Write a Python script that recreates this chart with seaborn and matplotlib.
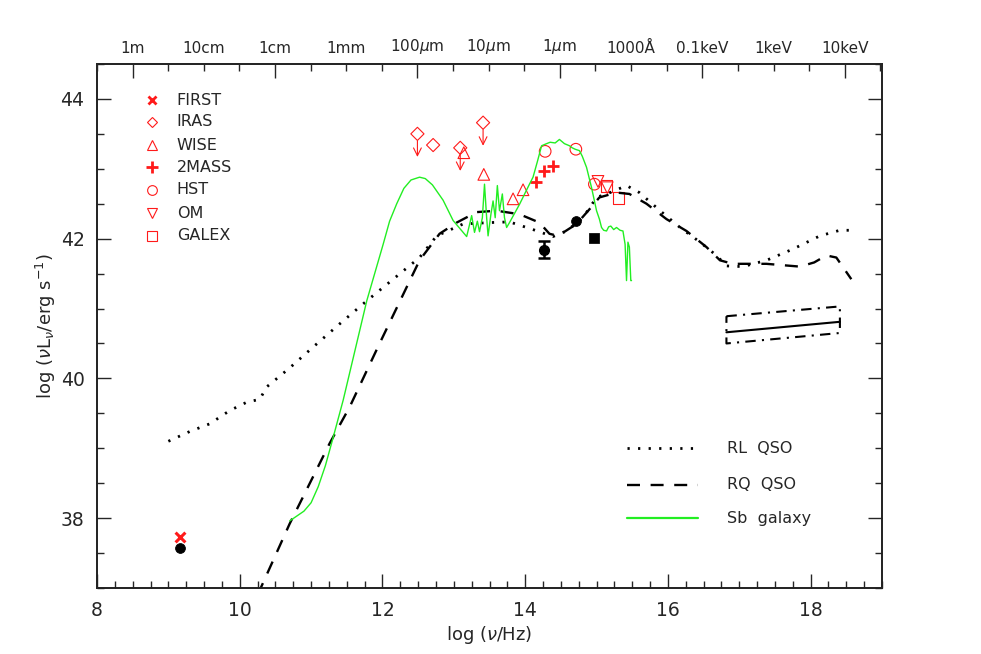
import numpy as np
import matplotlib
matplotlib.use("Agg")
import matplotlib.pyplot as plt
import seaborn as sns

# ---------------- data ----------------
rl_x = [9.0, 9.30, 9.58, 9.86, 10.10, 10.28, 10.38, 10.70, 11.03, 11.40, 11.78, 12.15, 12.52, 12.76,
        13.13, 13.50, 13.78, 14.11, 14.39, 14.58, 14.81, 15.00, 15.19, 15.42, 15.60, 15.89, 16.17,
        16.45, 16.68, 16.82, 17.05, 17.38, 17.75, 18.13, 18.41, 18.55]
rl_y = [39.10, 39.24, 39.35, 39.54, 39.66, 39.70, 39.88, 40.15, 40.45, 40.78, 41.11, 41.42, 41.73, 42.04,
        42.21, 42.23, 42.24, 42.13, 42.03, 42.11, 42.30, 42.59, 42.66, 42.76, 42.66, 42.40, 42.16,
        41.95, 41.76, 41.61, 41.60, 41.69, 41.85, 42.04, 42.12, 42.12]

rq_x = [10.25, 10.70, 11.26, 11.54, 11.96, 12.52, 12.80, 13.04, 13.32, 13.60, 13.92, 14.20, 14.34,
        14.46, 14.72, 14.90, 15.04, 15.28, 15.46, 15.70, 15.98, 16.26, 16.54, 16.73, 16.91, 17.38,
        17.85, 18.05, 18.22, 18.36, 18.57]
rq_y = [36.90, 37.92, 39.07, 39.59, 40.50, 41.69, 42.07, 42.23, 42.38, 42.40, 42.35, 42.23, 42.07,
        42.04, 42.21, 42.42, 42.59, 42.66, 42.64, 42.50, 42.28, 42.11, 41.88, 41.69, 41.64, 41.64,
        41.60, 41.66, 41.76, 41.73, 41.42]

sb_x = [10.70, 10.80, 10.90, 11.00, 11.10, 11.20, 11.30, 11.45, 11.78, 12.01, 12.10, 12.20, 12.30,
        12.40, 12.52, 12.60, 12.70, 12.85, 12.99,
        13.18, 13.22, 13.25, 13.29, 13.33, 13.36, 13.40, 13.43, 13.46, 13.48, 13.52, 13.55, 13.58,
        13.61, 13.64, 13.68, 13.71, 13.74, 13.78, 13.92, 14.06, 14.11, 14.17, 14.23, 14.30, 14.35,
        14.42, 14.48, 14.55, 14.62, 14.66, 14.70, 14.76, 14.80, 14.86, 14.93, 15.00, 15.04, 15.07,
        15.10, 15.14, 15.17, 15.20, 15.24, 15.28, 15.33, 15.37, 15.40, 15.42, 15.44, 15.46, 15.48, 15.49]
sb_y = [37.96, 38.03, 38.10, 38.22, 38.45, 38.75, 39.12, 39.69, 41.11, 41.92, 42.25, 42.50, 42.72,
        42.84, 42.88, 42.86, 42.77, 42.55, 42.26,
        42.03, 42.20, 42.33, 42.09, 42.25, 42.10, 42.30, 42.78, 42.30, 42.04, 42.35, 42.54, 42.30,
        42.76, 42.40, 42.64, 42.30, 42.16, 42.23, 42.49, 42.78, 42.88, 43.10, 43.33, 43.36, 43.38,
        43.37, 43.42, 43.36, 43.33, 43.30, 43.28, 43.26, 43.18, 43.02, 42.73, 42.40, 42.28, 42.16,
        42.12, 42.11, 42.17, 42.18, 42.13, 42.16, 42.12, 42.11, 41.92, 41.40, 41.95, 41.88, 41.40, 41.40]

first_x = [9.16]
first_y = [37.73]
iras_x = [12.49, 12.71, 13.09, 13.41]
iras_y = [43.50, 43.34, 43.30, 43.66]
iras_ul = [True, False, True, True]
wise_x = [13.14, 13.42, 13.83, 13.97]
wise_y = [43.23, 42.92, 42.57, 42.70]
tmass_x = [14.15, 14.26, 14.39]
tmass_y = [42.81, 42.97, 43.04]
hst_x = [14.28, 14.71, 14.97]
hst_y = [43.25, 43.28, 42.78]
om_x = [15.02, 15.15]
om_y = [42.82, 42.73]
galex_x = [15.14, 15.31]
galex_y = [42.75, 42.58]

blk_circ_x = [9.16, 14.71]
blk_circ_y = [37.57, 42.26]
blk_err_x = [14.27]
blk_err_y = [41.84]
blk_err = [0.12]
blk_sq_x = [14.97]
blk_sq_y = [42.01]

xray_x = [16.82, 18.41]
xray_y = [40.66, 40.81]
xray_hi = [40.89, 41.03]
xray_lo = [40.50, 40.65]

top_labels = ['1m', '10cm', '1cm', '1mm', r'100$\mu$m', r'10$\mu$m', r'1$\mu$m', '1000Å',
              '0.1keV', '1keV', '10keV']

# ---------------- figure ----------------
sns.set_style("white")
plt.rcParams['font.family'] = ['DejaVu Sans']
plt.rcParams['mathtext.fontset'] = 'dejavusans'

fig = plt.figure(figsize=(9.81, 6.54), dpi=100)
ax = fig.add_axes([97/981, 66/654, 785/981, 524/654])

RED = '#ff1a1a'

sns.lineplot(x=rl_x, y=rl_y, sort=False, ax=ax, color='black', lw=2.0,
             linestyle=(0, (0.8, 3.0)), estimator=None)
sns.lineplot(x=rq_x, y=rq_y, sort=False, ax=ax, color='black', lw=1.7,
             linestyle=(0, (5.5, 4.5)), estimator=None)
sns.lineplot(x=sb_x, y=sb_y, sort=False, ax=ax, color='#22ee22', lw=1.0, estimator=None)

# X-ray bowtie
sns.lineplot(x=xray_x, y=xray_y, ax=ax, color='black', lw=1.5, estimator=None)
box_x = [xray_x[0], xray_x[1], xray_x[1], xray_x[0], xray_x[0]]
box_y = [xray_hi[0], xray_hi[1], xray_lo[1], xray_lo[0], xray_hi[0]]
sns.lineplot(x=box_x, y=box_y, sort=False, ax=ax, color='black', lw=1.5,
             linestyle=(0, (5, 3, 1, 3)), estimator=None)

# red photometry
ms = 70
sns.scatterplot(x=first_x, y=first_y, ax=ax, marker='x', s=50, color=RED, linewidth=2.2)
sns.scatterplot(x=iras_x, y=iras_y, ax=ax, marker='D', s=45, facecolor='none', edgecolor=RED, linewidth=0.8)
sns.scatterplot(x=wise_x, y=wise_y, ax=ax, marker='^', s=ms, facecolor='none', edgecolor=RED, linewidth=0.8)
sns.scatterplot(x=tmass_x, y=tmass_y, ax=ax, marker='+', s=65, color=RED, linewidth=2.0)
sns.scatterplot(x=hst_x, y=hst_y, ax=ax, marker='o', s=ms, facecolor='none', edgecolor=RED, linewidth=0.8)
sns.scatterplot(x=om_x, y=om_y, ax=ax, marker='v', s=ms, facecolor='none', edgecolor=RED, linewidth=0.8)
sns.scatterplot(x=galex_x, y=galex_y, ax=ax, marker='s', s=ms, facecolor='none', edgecolor=RED, linewidth=0.8)
for xv, yv, ul in zip(iras_x, iras_y, iras_ul):
    if ul:
        ax.annotate('', xy=(xv, yv - 0.37), xytext=(xv, yv - 0.06),
                    arrowprops=dict(arrowstyle='->', color=RED, lw=0.8,
                                    mutation_scale=14))

# black points
sns.scatterplot(x=blk_circ_x, y=blk_circ_y, ax=ax, marker='o', s=50, color='black', edgecolor='black')
sns.scatterplot(x=blk_sq_x, y=blk_sq_y, ax=ax, marker='s', s=45, color='black', edgecolor='black')
ax.errorbar(blk_err_x, blk_err_y, yerr=blk_err, fmt='o', color='black', ms=7,
            capsize=4, elinewidth=1.8, capthick=1.8)

# ---------------- axes ----------------
ax.set_xlim(8, 19)
ax.set_ylim(37, 44.5)
ax.set_xticks([8, 10, 12, 14, 16, 18])
ax.set_xticks(np.arange(8, 19.01, 0.25), minor=True)
ax.set_yticks([38, 40, 42, 44])
ax.set_yticks(np.arange(37, 44.51, 0.5), minor=True)
ax.tick_params(axis='both', which='major', direction='in', length=10, width=1.0,
               labelsize=13.5, pad=9)
ax.tick_params(axis='both', which='minor', direction='in', length=5, width=1.0)
ax.tick_params(axis='y', which='both', left=True, right=True)
ax.tick_params(axis='x', which='both', bottom=True, top=False)
for s in ax.spines.values():
    s.set_linewidth(1.2)
    s.set_color('black')
ax.set_xlabel(r'log ($\nu$/Hz)', fontsize=13, labelpad=3)
ax.set_ylabel(r'log ($\nu$L$_\nu$/erg s$^{-1}$)', fontsize=13, labelpad=2)

ax2 = ax.twiny()
ax2.set_xlim(ax.get_xlim())
base = np.log10(2.998e8)
ax2.set_xticks(base + np.arange(len(top_labels)))
ax2.set_xticklabels(top_labels)
ax2.set_xticks(base + np.arange(-0.5, 10.51, 0.5), minor=True)
ax2.tick_params(axis='x', which='major', direction='in', length=5, width=1.0,
                labelsize=11, pad=6)
ax2.tick_params(axis='x', which='minor', direction='in', length=5, width=1.0)
for i, t in enumerate(ax2.xaxis.get_major_ticks()):
    if i % 2 == 0:
        t.tick2line.set_markersize(10)
for s in ax2.spines.values():
    s.set_linewidth(1.2)

# ---------------- legends ----------------
leg_names = ['FIRST', 'IRAS', 'WISE', '2MASS', 'HST', 'OM', 'GALEX']
leg_marks = [('x', True, 6, 2.0), ('D', False, 5, 0.8), ('^', False, 7, 0.8), ('+', True, 8, 2.0),
             ('o', False, 7, 0.8), ('v', False, 7, 0.8), ('s', False, 7, 0.8)]
leg_rows = [0.931, 0.890, 0.845, 0.803, 0.760, 0.715, 0.672]
for name, (m, filled, msz, mlw), yy in zip(leg_names, leg_marks, leg_rows):
    ax.plot([0.0697], [yy], transform=ax.transAxes, marker=m, ms=msz, mew=mlw,
            color=RED, mfc=RED if filled else 'none', mec=RED, ls='none')
    ax.text(0.1015, yy, name, transform=ax.transAxes, fontsize=11.5, va='center', ha='left')

line_rows = [0.267, 0.197, 0.133]
line_names = ['RL  QSO', 'RQ  QSO', 'Sb  galaxy']
line_styles = [dict(color='black', lw=2.0, ls=(0, (0.8, 3.0))),
               dict(color='black', lw=1.7, ls=(0, (5.5, 4.5))),
               dict(color='#22ee22', lw=1.6, ls='-')]
for yy, nm, st in zip(line_rows, line_names, line_styles):
    ax.plot([0.675, 0.765], [yy, yy], transform=ax.transAxes, **st)
    ax.text(0.802, yy, nm, transform=ax.transAxes, fontsize=11.5, va='center', ha='left')

fig.savefig('out.png', dpi=100)
